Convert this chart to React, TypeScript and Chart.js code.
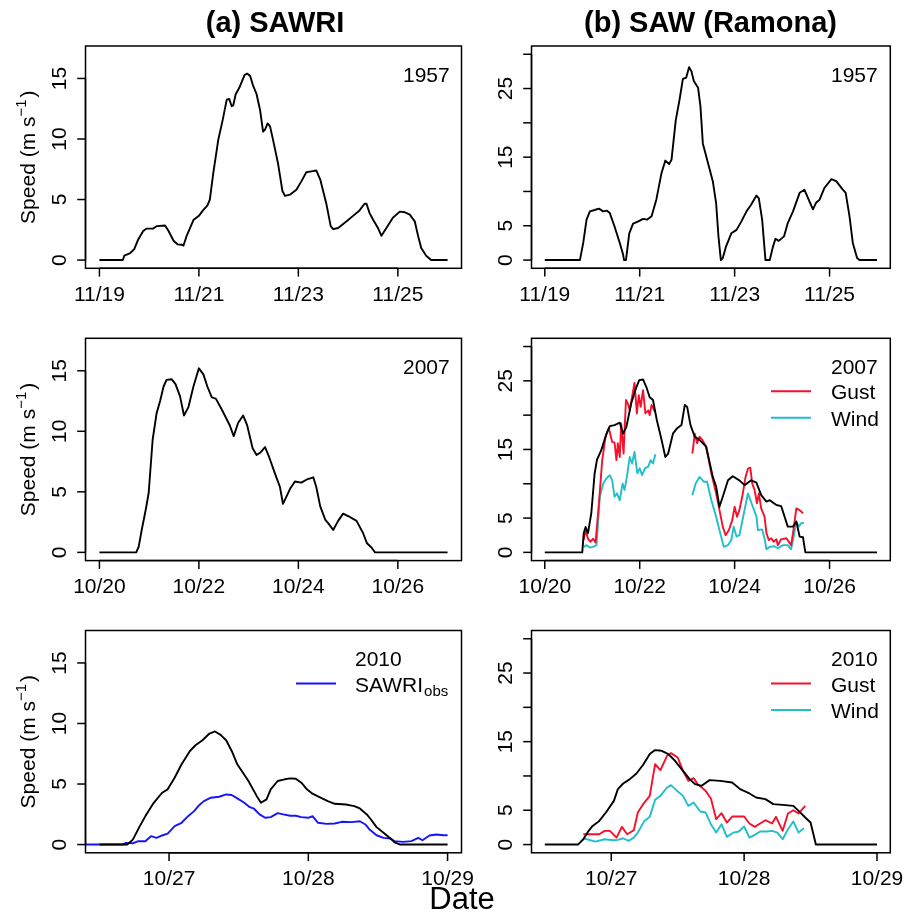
import React, { useEffect, useRef } from "react";
import { Chart, registerables } from "chart.js";
Chart.register(...registerables);

const FONT = '"Liberation Sans", Arial, Helvetica, sans-serif';
const W = 907;
const H = 914;

// ---------- DATA (x = days since first tick date, y = speed m/s) ----------
const xTicksNov = [0, 2, 4, 6];
const xLabelsNov = ["11/19", "11/21", "11/23", "11/25"];
const xTicksOct07 = [0, 2, 4, 6];
const xLabelsOct07 = ["10/20", "10/22", "10/24", "10/26"];
const xTicks2010 = [1, 2, 3];
const xLabels2010 = ["10/27", "10/28", "10/29"];
const yTicksSAWRI = [0, 5, 10, 15];
const yLabelsSAWRI = ["0", "5", "10", "15"];
const yTicksSAW = [0, 5, 10, 15, 20, 25, 30];
const yLabelsSAW = ["0", "5", "", "15", "", "25", ""];

const sawri1957: number[][] = [
  [0, 0], [0.47, 0], [0.5, 0.36], [0.62, 0.58], [0.7, 0.9], [0.78, 1.7], [0.88, 2.4], [0.95, 2.6], [1.08, 2.6],
  [1.15, 2.8], [1.32, 2.85], [1.39, 2.4], [1.49, 1.6], [1.57, 1.3], [1.65, 1.27], [1.69, 1.2], [1.75, 1.95],
  [1.89, 3.3], [2.0, 3.65], [2.09, 4.15], [2.17, 4.5], [2.22, 5.0], [2.29, 7.2], [2.39, 9.95], [2.48, 11.6],
  [2.56, 13.25], [2.61, 13.3], [2.66, 12.7], [2.69, 12.77], [2.74, 13.7], [2.82, 14.3], [2.92, 15.3], [2.97, 15.4],
  [3.03, 15.2], [3.09, 14.4], [3.16, 13.7], [3.23, 12.4], [3.29, 10.6], [3.33, 10.78], [3.38, 11.28], [3.43, 11.05],
  [3.49, 9.95], [3.59, 8.0], [3.68, 5.7], [3.73, 5.3], [3.83, 5.4], [3.96, 5.8], [4.06, 6.5], [4.16, 7.25],
  [4.26, 7.33], [4.36, 7.4], [4.44, 6.65], [4.56, 4.7], [4.65, 2.8], [4.7, 2.55], [4.8, 2.65], [4.97, 3.2],
  [5.1, 3.65], [5.23, 4.1], [5.33, 4.65], [5.37, 4.65], [5.43, 3.9], [5.5, 3.35], [5.6, 2.65], [5.67, 2.0],
  [5.77, 2.65], [5.9, 3.5], [6.04, 4.0], [6.14, 3.95], [6.24, 3.75], [6.34, 3.2], [6.41, 1.95], [6.47, 1.0],
  [6.57, 0.36], [6.67, 0], [7.0, 0],
];

const saw1957: number[][] = [
  [0, 0], [0.74, 0], [0.81, 2.5], [0.88, 5.9], [0.95, 7.1], [1.05, 7.3], [1.14, 7.5], [1.23, 7.1], [1.31, 7.2],
  [1.37, 6.85], [1.47, 4.9], [1.58, 2.5], [1.65, 0.8], [1.67, 0], [1.71, 0], [1.78, 3.9], [1.86, 5.3], [1.96, 5.6],
  [2.07, 6.0], [2.16, 5.9], [2.25, 6.4], [2.35, 8.8], [2.46, 12.7], [2.54, 14.5], [2.62, 14.0], [2.67, 14.6],
  [2.76, 20.4], [2.84, 23.4], [2.91, 26.4], [2.98, 26.6], [3.04, 28.1], [3.09, 27.5], [3.14, 26.1], [3.23, 25.1],
  [3.28, 22.4], [3.33, 17.0], [3.44, 14.1], [3.54, 11.5], [3.61, 8.3], [3.66, 3.4], [3.71, 0], [3.75, 0.3],
  [3.82, 2.0], [3.93, 3.9], [4.04, 4.4], [4.14, 5.6], [4.25, 7.1], [4.35, 8.1], [4.46, 9.4], [4.51, 9.0],
  [4.58, 5.9], [4.65, 0], [4.74, 0], [4.81, 2.0], [4.86, 3.1], [4.93, 2.8], [5.04, 3.45], [5.12, 5.4], [5.23, 7.1],
  [5.37, 9.8], [5.47, 10.25], [5.56, 8.8], [5.65, 7.4], [5.72, 8.4], [5.79, 8.8], [5.89, 10.5], [6.04, 11.8],
  [6.14, 11.5], [6.27, 10.35], [6.34, 9.8], [6.42, 6.4], [6.49, 2.5], [6.58, 0.3], [6.63, 0], [7.0, 0],
];

const sawri2007: number[][] = [
  [0, 0], [0.74, 0], [0.79, 0.47], [0.85, 1.85], [0.93, 3.5], [0.99, 4.9], [1.07, 9.3], [1.15, 11.5], [1.22, 12.5],
  [1.29, 13.7], [1.35, 14.25], [1.45, 14.3], [1.53, 13.9], [1.62, 12.9], [1.7, 11.3], [1.79, 12.0], [1.89, 13.7],
  [2.0, 15.2], [2.09, 14.7], [2.17, 13.7], [2.26, 12.8], [2.34, 12.7], [2.46, 11.8], [2.62, 10.5], [2.7, 9.6],
  [2.79, 10.7], [2.89, 11.3], [2.97, 10.5], [3.08, 8.6], [3.16, 8.05], [3.24, 8.25], [3.33, 8.7], [3.41, 7.9],
  [3.53, 6.5], [3.63, 5.4], [3.69, 4.0], [3.76, 4.6], [3.84, 5.3], [3.93, 5.85], [4.06, 5.76], [4.16, 6.0],
  [4.3, 6.2], [4.36, 5.4], [4.44, 3.8], [4.54, 2.7], [4.63, 2.25], [4.7, 1.85], [4.8, 2.6], [4.9, 3.2], [5.0, 3.0],
  [5.17, 2.6], [5.3, 1.6], [5.38, 0.75], [5.47, 0.4], [5.54, 0], [7.0, 0],
];

const saw2007: number[][] = [
  [0, 0], [0.79, 0], [0.82, 2.8], [0.86, 3.7], [0.91, 2.8], [0.98, 5.7], [1.05, 11.5], [1.1, 13.5], [1.19, 14.9],
  [1.3, 17.3], [1.37, 18.4], [1.47, 18.55], [1.58, 18.9], [1.65, 17.3], [1.72, 18.3], [1.82, 21.7], [1.92, 23.9],
  [1.99, 25.1], [2.07, 25.2], [2.14, 24.1], [2.21, 22.6], [2.28, 22.2], [2.36, 19.3], [2.46, 16.4], [2.54, 13.9],
  [2.6, 14.4], [2.7, 17.3], [2.79, 18.1], [2.88, 18.55], [2.95, 21.5], [3.0, 21.2], [3.07, 18.55], [3.16, 16.85],
  [3.26, 16.4], [3.4, 15.4], [3.54, 11.0], [3.61, 9.6], [3.68, 6.65], [3.75, 8.1], [3.86, 10.5], [3.96, 11.1],
  [4.1, 10.5], [4.21, 9.8], [4.35, 10.5], [4.46, 10.15], [4.56, 8.35], [4.67, 7.4], [4.74, 7.6], [4.88, 6.9],
  [4.98, 6.75], [5.12, 3.75], [5.23, 3.75], [5.3, 4.5], [5.37, 2.3], [5.44, 2.2], [5.49, 0], [7.0, 0],
];

const gust2007a: number[][] = [
  [0.82, 1.8], [0.86, 3.25], [0.91, 2.0], [0.96, 1.55], [1.02, 2.0], [1.07, 1.45], [1.14, 7.1], [1.21, 13.45],
  [1.28, 16.85], [1.35, 18.1], [1.42, 16.1], [1.47, 16.0], [1.51, 13.45], [1.54, 15.9], [1.58, 13.9], [1.61, 18.8],
  [1.66, 14.4], [1.71, 22.2], [1.75, 21.7], [1.79, 20.7], [1.84, 22.7], [1.89, 24.7], [1.94, 20.25], [1.98, 22.9],
  [2.02, 21.2], [2.07, 23.65], [2.12, 20.25], [2.18, 20.7], [2.21, 20.0], [2.25, 21.5], [2.32, 20.5],
];
const gust2007b: number[][] = [
  [3.11, 14.4], [3.16, 17.3], [3.21, 15.9], [3.26, 16.85], [3.32, 16.4], [3.4, 15.4], [3.51, 11.5], [3.61, 8.6],
  [3.68, 6.2], [3.75, 3.75], [3.81, 2.5], [3.88, 3.25], [3.95, 4.7], [4.0, 6.65], [4.05, 5.2], [4.1, 6.15],
  [4.16, 8.1], [4.23, 11.0], [4.28, 12.2], [4.33, 12.35], [4.37, 10.05], [4.42, 9.1], [4.47, 7.15], [4.51, 8.6],
  [4.56, 6.4], [4.63, 5.2], [4.67, 2.8], [4.72, 1.8], [4.77, 2.05], [4.82, 1.55], [4.88, 1.9], [4.91, 1.05],
  [4.98, 1.9], [5.09, 2.05], [5.19, 1.05], [5.23, 2.8], [5.3, 6.4], [5.37, 6.15], [5.44, 5.7],
];
const wind2007a: number[][] = [
  [0.82, 0.8], [0.88, 1.05], [0.95, 0.7], [1.02, 0.8], [1.09, 1.05], [1.16, 8.1], [1.23, 10.05], [1.3, 10.8],
  [1.37, 11.25], [1.42, 10.5], [1.47, 8.1], [1.52, 8.6], [1.58, 7.6], [1.64, 10.05], [1.68, 9.1], [1.73, 11.0],
  [1.79, 13.9], [1.84, 12.95], [1.89, 14.65], [1.95, 11.5], [2.0, 12.25], [2.05, 11.25], [2.11, 12.25],
  [2.18, 12.5], [2.23, 13.45], [2.28, 12.95], [2.33, 14.3],
];
const wind2007b: number[][] = [
  [3.11, 8.35], [3.18, 10.05], [3.26, 11.0], [3.35, 10.3], [3.42, 10.3], [3.51, 7.6], [3.61, 5.2], [3.68, 3.25],
  [3.77, 0.8], [3.86, 1.05], [3.93, 1.8], [3.98, 3.75], [4.04, 2.3], [4.1, 2.5], [4.18, 5.2], [4.28, 8.6],
  [4.37, 6.9], [4.46, 5.2], [4.49, 3.25], [4.58, 3.35], [4.63, 2.05], [4.67, 0.45], [4.74, 0.8], [4.84, 0.9],
  [4.91, 0.6], [5.02, 1.05], [5.12, 1.05], [5.19, 0.45], [5.23, 1.8], [5.3, 4.5], [5.35, 3.75], [5.4, 4.25],
  [5.46, 4.3],
];

const sawri2010: number[][] = [
  [0.5, 0], [0.7, 0], [0.74, 0.41], [0.79, 1.52], [0.83, 2.35], [0.89, 3.45], [0.95, 4.28], [0.99, 4.56],
  [1.04, 5.52], [1.09, 6.63], [1.15, 7.73], [1.19, 8.2], [1.24, 8.62], [1.29, 9.17], [1.33, 9.34], [1.37, 9.06],
  [1.41, 8.62], [1.45, 7.73], [1.49, 6.63], [1.57, 5.25], [1.63, 4.0], [1.66, 3.45], [1.7, 3.73], [1.73, 4.56],
  [1.78, 5.25], [1.83, 5.39], [1.87, 5.47], [1.91, 5.44], [1.95, 5.11], [1.99, 4.56], [2.03, 4.2], [2.08, 3.92],
  [2.14, 3.59], [2.19, 3.37], [2.27, 3.31], [2.33, 3.18], [2.37, 2.98], [2.42, 2.49], [2.45, 2.07], [2.49, 1.44],
  [2.54, 0.97], [2.59, 0.5], [2.62, 0.19], [2.66, 0], [3.0, 0],
];
const sawriObs2010: number[][] = [
  [0.4, 0], [0.67, 0], [0.69, 0.14], [0.74, 0.11], [0.78, 0.28], [0.83, 0.28], [0.87, 0.69], [0.91, 0.55],
  [0.95, 0.75], [0.99, 0.91], [1.04, 1.52], [1.09, 1.8], [1.13, 2.27], [1.18, 2.76], [1.21, 3.18], [1.25, 3.59],
  [1.3, 3.87], [1.36, 3.95], [1.41, 4.14], [1.45, 4.09], [1.49, 3.81], [1.54, 3.45], [1.58, 3.09], [1.61, 2.96],
  [1.65, 2.49], [1.69, 2.21], [1.73, 2.27], [1.78, 2.6], [1.82, 2.49], [1.87, 2.38], [1.91, 2.38], [1.95, 2.27],
  [2.0, 2.21], [2.03, 2.35], [2.07, 1.8], [2.13, 1.71], [2.19, 1.74], [2.24, 1.88], [2.31, 1.85], [2.37, 1.93],
  [2.41, 1.66], [2.44, 1.24], [2.49, 0.77], [2.54, 0.55], [2.59, 0.5], [2.62, 0.28], [2.68, 0.22], [2.74, 0.28],
  [2.79, 0.55], [2.82, 0.36], [2.87, 0.75], [2.92, 0.83], [2.97, 0.77], [3.0, 0.77],
];

const saw2010: number[][] = [
  [0.5, 0], [0.75, 0], [0.79, 0.78], [0.83, 2.0], [0.86, 2.72], [0.91, 3.45], [0.96, 4.67], [1.02, 6.37],
  [1.05, 8.08], [1.09, 8.9], [1.14, 9.54], [1.19, 10.36], [1.24, 11.63], [1.29, 13.19], [1.33, 13.77],
  [1.38, 13.67], [1.43, 13.19], [1.48, 12.21], [1.54, 10.75], [1.59, 9.54], [1.63, 8.81], [1.68, 8.56],
  [1.74, 9.39], [1.82, 9.29], [1.91, 9.05], [1.97, 8.08], [2.04, 7.45], [2.09, 6.86], [2.16, 6.62], [2.22, 5.89],
  [2.29, 5.79], [2.37, 5.64], [2.41, 4.91], [2.46, 3.94], [2.5, 3.21], [2.54, 0], [3.0, 0],
];
const gust2010: number[][] = [
  [0.79, 1.51], [0.91, 1.51], [0.95, 2.0], [0.99, 2.0], [1.04, 1.02], [1.08, 2.58], [1.12, 1.51], [1.17, 2.09],
  [1.2, 4.67], [1.24, 5.89], [1.29, 7.1], [1.33, 11.73], [1.37, 10.85], [1.42, 12.94], [1.45, 13.33], [1.5, 12.7],
  [1.54, 10.75], [1.58, 9.29], [1.62, 9.68], [1.65, 8.81], [1.71, 7.83], [1.75, 6.72], [1.79, 3.7], [1.83, 4.57],
  [1.87, 3.21], [1.91, 4.09], [2.0, 4.09], [2.04, 3.07], [2.08, 2.58], [2.12, 3.07], [2.16, 3.55], [2.21, 3.07],
  [2.24, 4.04], [2.29, 2.0], [2.33, 4.53], [2.37, 5.01], [2.41, 4.53], [2.46, 5.64],
];
const wind2010: number[][] = [
  [0.79, 0.92], [0.88, 0.44], [0.95, 0.78], [1.02, 0.63], [1.05, 0.68], [1.09, 0.92], [1.13, 0.54], [1.17, 1.02],
  [1.2, 1.75], [1.25, 3.45], [1.29, 4.04], [1.33, 6.52], [1.37, 7.1], [1.42, 8.32], [1.45, 8.66], [1.49, 7.93],
  [1.54, 7.1], [1.58, 5.64], [1.62, 6.13], [1.67, 4.82], [1.71, 4.67], [1.75, 2.97], [1.79, 1.75], [1.83, 2.97],
  [1.87, 1.12], [1.92, 1.75], [1.96, 1.9], [2.0, 2.63], [2.04, 1.02], [2.08, 1.41], [2.12, 1.9], [2.17, 1.9],
  [2.21, 2.0], [2.25, 1.75], [2.29, 0.78], [2.33, 2.24], [2.37, 3.36], [2.41, 1.75], [2.45, 2.38],
];

// ---------- STYLE / LAYOUT ----------
const BLACK = "#000000";
const RED = "#f5102c";
const CYAN = "#20bfca";
const BLUE = "#1414ff";
const LW = 1.9;

const COL_L = { l: 85.5, r: 461.5 };
const COL_R = { l: 531.5, r: 890.3 };
const ROW_T = [46, 338.3, 630.5];
const ROW_H = 222.3;

type Series = { data: number[][]; color: string };
type Legend = { text: string; sub?: string; color: string };
type PanelCfg = {
  col: { l: number; r: number };
  row: number;
  xRange: [number, number];
  yRange: [number, number];
  xTicks: number[];
  xLabels: string[];
  yTicks: number[];
  yLabels: string[];
  yTitle: boolean;
  series: Series[];
  header: string;
  legend: Legend[];
  textX: number;
  lineX: [number, number];
  extra?: (ctx: CanvasRenderingContext2D) => void;
};

const ext = (a: number, b: number): [number, number] => {
  const d = (b - a) * 0.04;
  return [a - d, b + d];
};

const panels: PanelCfg[] = [
  {
    col: COL_L, row: 0, xRange: ext(0, 7), yRange: ext(0, 17), xTicks: xTicksNov, xLabels: xLabelsNov,
    yTicks: yTicksSAWRI, yLabels: yLabelsSAWRI, yTitle: true,
    series: [{ data: sawri1957, color: BLACK }], header: "1957", legend: [], textX: 403, lineX: [0, 0],
    extra: (ctx) => {
      ctx.font = `bold 29px ${FONT}`;
      ctx.textAlign = "center";
      ctx.fillText("(a) SAWRI", 275, 32);
    },
  },
  {
    col: COL_R, row: 0, xRange: ext(0, 7), yRange: ext(0, 30), xTicks: xTicksNov, xLabels: xLabelsNov,
    yTicks: yTicksSAW, yLabels: yLabelsSAW, yTitle: false,
    series: [{ data: saw1957, color: BLACK }], header: "1957", legend: [], textX: 831, lineX: [0, 0],
    extra: (ctx) => {
      ctx.font = `bold 29px ${FONT}`;
      ctx.textAlign = "center";
      ctx.fillText("(b) SAW (Ramona)", 710.5, 32);
    },
  },
  {
    col: COL_L, row: 1, xRange: ext(0, 7), yRange: ext(0, 17), xTicks: xTicksOct07, xLabels: xLabelsOct07,
    yTicks: yTicksSAWRI, yLabels: yLabelsSAWRI, yTitle: true,
    series: [{ data: sawri2007, color: BLACK }], header: "2007", legend: [], textX: 403, lineX: [0, 0],
  },
  {
    col: COL_R, row: 1, xRange: ext(0, 7), yRange: ext(0, 30), xTicks: xTicksOct07, xLabels: xLabelsOct07,
    yTicks: yTicksSAW, yLabels: yLabelsSAW, yTitle: false,
    series: [
      { data: saw2007, color: BLACK },
      { data: gust2007a, color: RED },
      { data: gust2007b, color: RED },
      { data: wind2007a, color: CYAN },
      { data: wind2007b, color: CYAN },
    ],
    header: "2007",
    legend: [{ text: "Gust", color: RED }, { text: "Wind", color: CYAN }],
    textX: 831, lineX: [771, 811],
  },
  {
    col: COL_L, row: 2, xRange: ext(0.5, 3), yRange: ext(0, 17), xTicks: xTicks2010, xLabels: xLabels2010,
    yTicks: yTicksSAWRI, yLabels: yLabelsSAWRI, yTitle: true,
    series: [{ data: sawri2010, color: BLACK }, { data: sawriObs2010, color: BLUE }],
    header: "2010",
    legend: [{ text: "SAWRI", sub: "obs", color: BLUE }],
    textX: 355, lineX: [296, 336],
    extra: (ctx) => {
      ctx.font = `31px ${FONT}`;
      ctx.textAlign = "center";
      ctx.fillText("Date", 462, 909);
    },
  },
  {
    col: COL_R, row: 2, xRange: ext(0.5, 3), yRange: ext(0, 30), xTicks: xTicks2010, xLabels: xLabels2010,
    yTicks: yTicksSAW, yLabels: yLabelsSAW, yTitle: false,
    series: [{ data: saw2010, color: BLACK }, { data: gust2010, color: RED }, { data: wind2010, color: CYAN }],
    header: "2010",
    legend: [{ text: "Gust", color: RED }, { text: "Wind", color: CYAN }],
    textX: 831, lineX: [771, 811],
  },
];

const decor = (cfg: PanelCfg) => ({
  id: "decor",
  afterDraw(chart: any) {
    const ctx: CanvasRenderingContext2D = chart.ctx;
    const a = chart.chartArea;
    const xs = chart.scales.x;
    const ys = chart.scales.y;
    ctx.save();
    ctx.strokeStyle = "#000";
    ctx.fillStyle = "#000";
    ctx.lineWidth = 1.5;
    ctx.strokeRect(a.left, a.top, a.right - a.left, a.bottom - a.top);

    const seg = (x1: number, y1: number, x2: number, y2: number) => {
      ctx.beginPath();
      ctx.moveTo(x1, y1);
      ctx.lineTo(x2, y2);
      ctx.stroke();
    };

    ctx.font = `21px ${FONT}`;
    ctx.textBaseline = "alphabetic";
    ctx.textAlign = "center";
    // x axis
    const x0 = xs.getPixelForValue(cfg.xTicks[0]);
    const x1 = xs.getPixelForValue(cfg.xTicks[cfg.xTicks.length - 1]);
    seg(x0, a.bottom, x1, a.bottom);
    cfg.xTicks.forEach((v, i) => {
      const px = xs.getPixelForValue(v);
      seg(px, a.bottom, px, a.bottom + 8.3);
      ctx.fillText(cfg.xLabels[i], px, a.bottom + 32.5);
    });
    // y axis
    const y0 = ys.getPixelForValue(cfg.yTicks[0]);
    const y1 = ys.getPixelForValue(cfg.yTicks[cfg.yTicks.length - 1]);
    seg(a.left, y0, a.left, y1);
    cfg.yTicks.forEach((v, i) => {
      const py = ys.getPixelForValue(v);
      seg(a.left - 8.3, py, a.left, py);
      const lab = cfg.yLabels[i];
      if (lab) {
        ctx.save();
        ctx.translate(a.left - 20, py);
        ctx.rotate(-Math.PI / 2);
        ctx.textAlign = "center";
        ctx.fillText(lab, 0, 0);
        ctx.restore();
      }
    });

    // y title with superscript
    if (cfg.yTitle) {
      const cy = (a.top + a.bottom) / 2;
      ctx.save();
      ctx.translate(a.left - 50.5, cy);
      ctx.rotate(-Math.PI / 2);
      ctx.textAlign = "left";
      const main = "Speed (m s";
      const sup = "\u22121";
      const close = ")";
      ctx.font = `21px ${FONT}`;
      const w1 = ctx.measureText(main).width;
      const w3 = ctx.measureText(close).width;
      ctx.font = `15px ${FONT}`;
      const w2 = ctx.measureText(sup).width;
      const total = w1 + w2 + w3 + 2;
      let x = -total / 2;
      ctx.font = `21px ${FONT}`;
      ctx.fillText(main, x, 0);
      x += w1;
      ctx.font = `15px ${FONT}`;
      ctx.fillText(sup, x, -9);
      x += w2 + 2;
      ctx.font = `21px ${FONT}`;
      ctx.fillText(close, x, 0);
      ctx.restore();
    }

    // header + legend
    ctx.textAlign = "left";
    ctx.font = `21px ${FONT}`;
    ctx.fillText(cfg.header, cfg.textX, a.top + 35.5);
    cfg.legend.forEach((lg, i) => {
      const base = a.top + 61 + i * 26.5;
      ctx.strokeStyle = lg.color;
      ctx.lineWidth = LW;
      seg(cfg.lineX[0], base - 8, cfg.lineX[1], base - 8);
      ctx.fillStyle = "#000";
      ctx.font = `21px ${FONT}`;
      ctx.fillText(lg.text, cfg.textX, base);
      if (lg.sub) {
        const w = ctx.measureText(lg.text).width;
        ctx.font = `15px ${FONT}`;
        ctx.fillText(lg.sub, cfg.textX + w + 1, base + 4);
      }
    });
    ctx.fillStyle = "#000";
    ctx.strokeStyle = "#000";
    if (cfg.extra) cfg.extra(ctx);
    ctx.restore();
  },
});

function Panel({ cfg }: { cfg: PanelCfg }) {
  const ref = useRef<HTMLCanvasElement>(null);
  useEffect(() => {
    const top = ROW_T[cfg.row];
    const bottom = top + ROW_H;
    const chart = new Chart(ref.current as HTMLCanvasElement, {
      type: "line",
      data: {
        datasets: cfg.series.map((s) => ({
          data: s.data.map(([x, y]) => ({ x, y })),
          borderColor: s.color,
          borderWidth: LW,
          borderJoinStyle: "round",
          pointRadius: 0,
          tension: 0,
          fill: false,
        })),
      },
      options: {
        responsive: false,
        animation: false,
        devicePixelRatio: 1,
        events: [],
        layout: {
          padding: { left: cfg.col.l, top, right: W - cfg.col.r, bottom: H - bottom },
        },
        scales: {
          x: { type: "linear", min: cfg.xRange[0], max: cfg.xRange[1], display: false },
          y: { type: "linear", min: cfg.yRange[0], max: cfg.yRange[1], display: false },
        },
        plugins: { legend: { display: false }, tooltip: { enabled: false } },
      },
      plugins: [decor(cfg)],
    } as any);
    return () => chart.destroy();
  }, [cfg]);
  return (
    <canvas
      ref={ref}
      width={W}
      height={H}
      style={{ position: "absolute", left: 0, top: 0, width: W, height: H }}
    />
  );
}

export default function App() {
  return (
    <div style={{ position: "absolute", left: 0, top: 0, width: W, height: H, background: "#fff" }}>
      {panels.map((p, i) => (
        <Panel key={i} cfg={p} />
      ))}
    </div>
  );
}
